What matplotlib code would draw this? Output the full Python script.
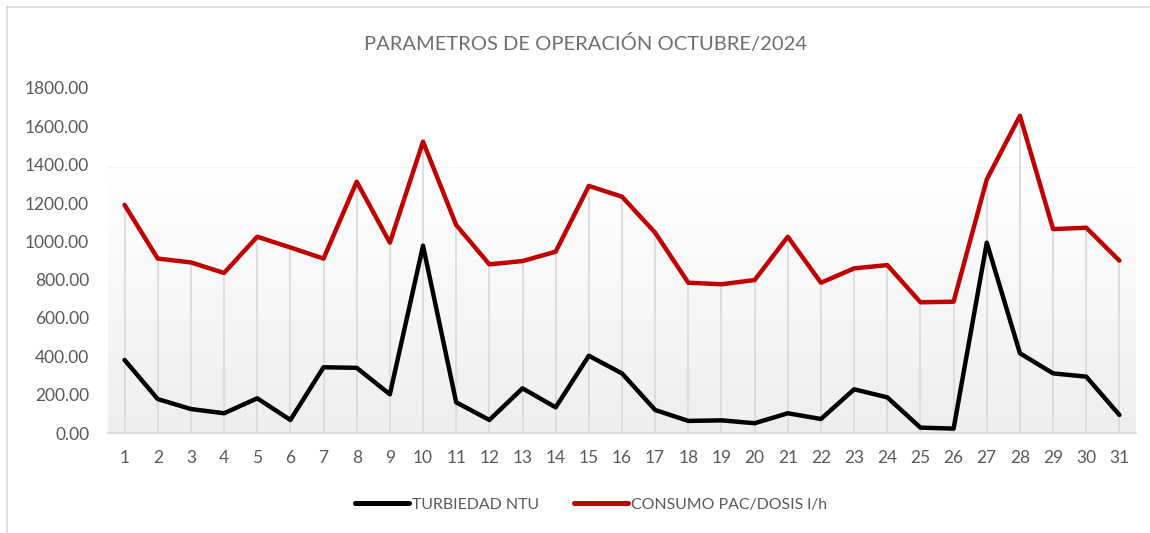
import numpy as np
import matplotlib
matplotlib.use("Agg")
import matplotlib.pyplot as plt
from matplotlib.colors import LinearSegmentedColormap
from matplotlib.lines import Line2D

plt.rcParams['font.family'] = ['Lato', 'DejaVu Sans']

# datos
dias = list(range(1, 32))
turbiedad = [381, 177, 125, 103, 181, 68, 343, 340, 202, 977,
             160, 68, 233, 134, 403, 311, 120, 63, 66, 51,
             103, 73, 228, 186, 28, 23, 993, 416, 311, 294, 94]
consumo_pac = [1190, 910, 890, 835, 1024, 968, 910, 1311, 993, 1520,
               1085, 880, 897, 946, 1289, 1233, 1045, 784, 776, 798,
               1024, 784, 859, 876, 682, 685, 1323, 1655, 1064, 1071, 899]
y_ticks = [0, 200, 400, 600, 800, 1000, 1200, 1400, 1600, 1800]

TXT = '#595959'
GRID = '#d9d9d9'

fig = plt.figure(figsize=(11.5, 5.33), dpi=100)
ax = fig.add_axes([108 / 1150, 1 - 433 / 533, (1136 - 108) / 1150, (433 - 88) / 533])

ax.set_xlim(0.5, 31.5)
ax.set_ylim(0, 1800)

# fondo con degradado (area de trazado)
cmap = LinearSegmentedColormap.from_list('fondo', ['#eeeeee', '#ffffff'])
grad = np.linspace(0, 1, 256).reshape(-1, 1)
ax.imshow(grad, aspect='auto', cmap=cmap, origin='lower',
          extent=[0.5, 31.5, 0, 1390], zorder=0)
ax.axhline(1390, color='#f4f4f4', lw=0.8, zorder=0.5)

# lineas de proyeccion
tope = np.maximum(turbiedad, consumo_pac)
ax.vlines(dias, 0, tope, color=GRID, lw=1.2, zorder=1)

ax.plot(dias, turbiedad, color='black', lw=3.2, zorder=3,
        solid_joinstyle='round', solid_capstyle='round')
ax.plot(dias, consumo_pac, color='#c00000', lw=3.2, zorder=3,
        solid_joinstyle='round', solid_capstyle='round')

for s in ['top', 'right', 'left']:
    ax.spines[s].set_visible(False)
ax.spines['bottom'].set_color(GRID)
ax.spines['bottom'].set_linewidth(1.2)

ax.set_xticks(dias)
ax.set_xticklabels([str(d) for d in dias])
ax.set_yticks(y_ticks)
ax.set_yticklabels([f'{v:.2f}' for v in y_ticks])
ax.tick_params(axis='both', length=0, labelsize=12.5, colors=TXT)
ax.tick_params(axis='x', pad=12)
ax.tick_params(axis='y', pad=13.5)

fig.text(586 / 1150, 1 - 43 / 533, 'PARAMETROS DE OPERACIÓN OCTUBRE/2024',
         ha='center', va='center', fontsize=14.5, color='#6f6f6f')

handles = [Line2D([], [], color='black', lw=3.6, solid_capstyle='round'),
           Line2D([], [], color='#c00000', lw=3.6, solid_capstyle='round')]
fig.legend(handles, ['TURBIEDAD NTU', 'CONSUMO PAC/DOSIS l/h'],
           loc='center', bbox_to_anchor=(591 / 1150, 1 - 505 / 533),
           ncol=2, frameon=False, fontsize=11.4, labelcolor=TXT,
           handlelength=3.4, handletextpad=0.2, columnspacing=2.2)

# borde del grafico
fig.add_artist(Line2D([7 / 1150, 7 / 1150], [0, 1 - 7 / 533],
                      transform=fig.transFigure, color=GRID, lw=1.2))
fig.add_artist(Line2D([7 / 1150, 1], [1 - 7 / 533, 1 - 7 / 533],
                      transform=fig.transFigure, color=GRID, lw=1.2))

fig.savefig('out.png', dpi=100)
